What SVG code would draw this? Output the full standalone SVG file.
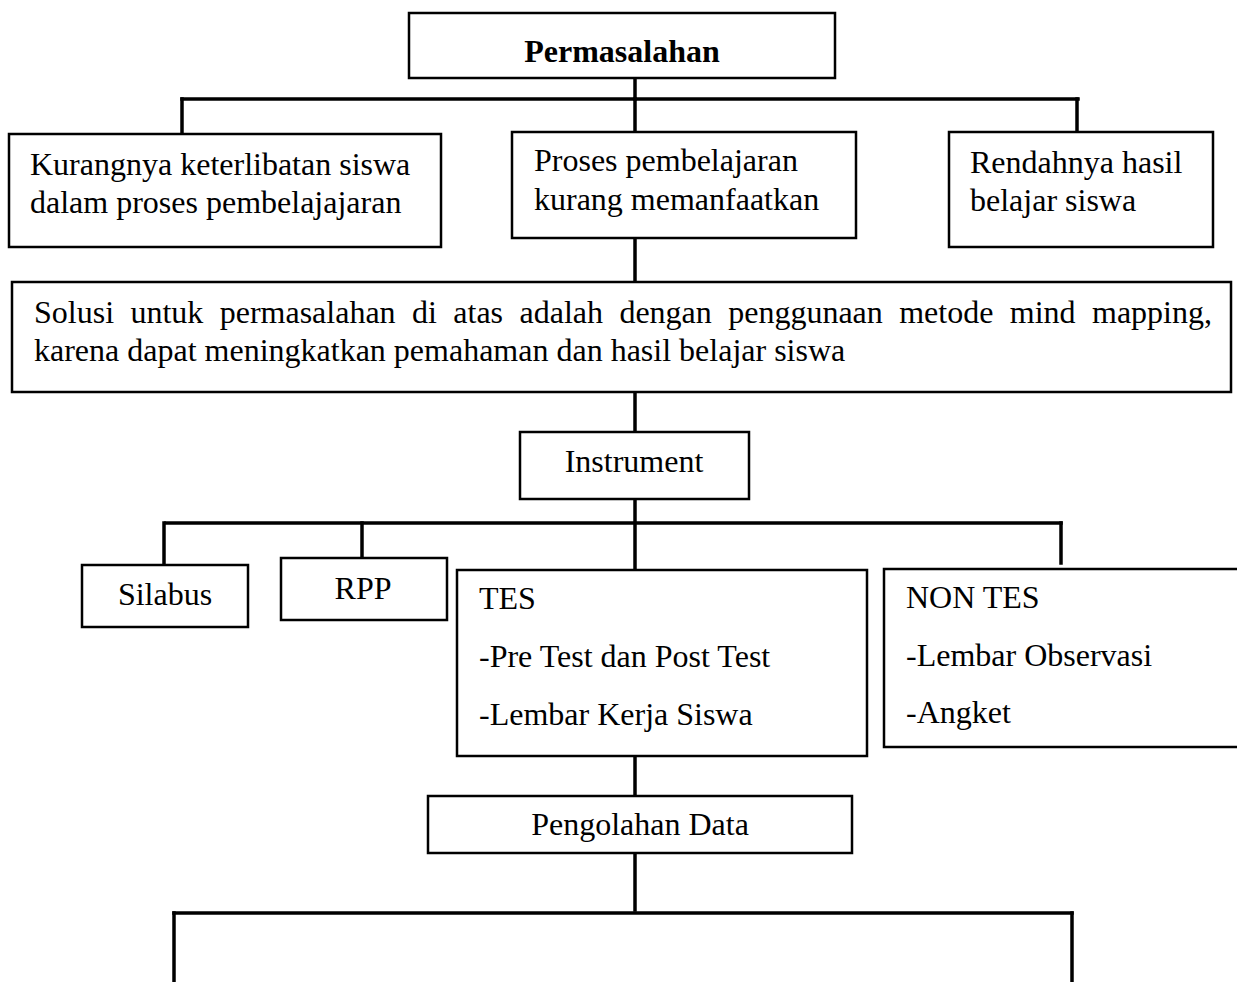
<svg xmlns="http://www.w3.org/2000/svg" width="1237" height="982" viewBox="0 0 1237 982">
<style>
  .box { fill: #ffffff; stroke: #000000; stroke-width: 2.5; }
  .conn { stroke: #000000; stroke-width: 3.5; fill: none; stroke-linecap: square; }
  text { font-family: "Liberation Serif", "Times New Roman", serif; font-size: 32px; fill: #000000; }
  .bold { font-weight: bold; }
  .mid { text-anchor: middle; }
</style>
<rect width="1237" height="982" fill="#ffffff"/>
<g id="connectors">
  <line class="conn" x1="635" y1="78" x2="635" y2="99"/>
  <line class="conn" x1="182" y1="99" x2="1078" y2="99"/>
  <line class="conn" x1="182" y1="99" x2="182" y2="133"/>
  <line class="conn" x1="635" y1="99" x2="635" y2="131"/>
  <line class="conn" x1="1077" y1="99" x2="1077" y2="131"/>
  <line class="conn" x1="635" y1="238" x2="635" y2="282"/>
  <line class="conn" x1="635" y1="392" x2="635" y2="432"/>
  <line class="conn" x1="635" y1="499" x2="635" y2="569"/>
  <line class="conn" x1="166" y1="523" x2="1061" y2="523"/>
  <line class="conn" x1="164" y1="523" x2="164" y2="565"/>
  <line class="conn" x1="362" y1="523" x2="362" y2="558"/>
  <line class="conn" x1="1061" y1="523" x2="1061" y2="563"/>
  <line class="conn" x1="635" y1="756" x2="635" y2="796"/>
  <line class="conn" x1="635" y1="853" x2="635" y2="910"/>
  <line class="conn" x1="174" y1="913" x2="1072" y2="913"/>
  <line class="conn" x1="174" y1="913" x2="174" y2="990"/>
  <line class="conn" x1="1072" y1="913" x2="1072" y2="990"/>
</g>
<g id="permasalahan">
  <rect class="box" x="409" y="13" width="426" height="65"/>
  <text class="bold mid" x="622" y="62">Permasalahan</text>
</g>
<g id="kurangnya">
  <rect class="box" x="9" y="134" width="432" height="113"/>
  <text x="30" y="175">Kurangnya keterlibatan siswa</text>
  <text x="30" y="213">dalam proses pembelajajaran</text>
</g>
<g id="proses">
  <rect class="box" x="512" y="132" width="344" height="106"/>
  <text x="534" y="171">Proses pembelajaran</text>
  <text x="534" y="210">kurang memanfaatkan</text>
</g>
<g id="rendahnya">
  <rect class="box" x="949" y="132" width="264" height="115"/>
  <text x="970" y="173">Rendahnya hasil</text>
  <text x="970" y="211">belajar siswa</text>
</g>
<g id="solusi">
  <rect class="box" x="12" y="282" width="1219" height="110"/>
  <text y="323"><tspan x="34">Solusi</tspan><tspan x="130.4">untuk</tspan><tspan x="219.7">permasalahan</tspan><tspan x="412">di</tspan><tspan x="453.3">atas</tspan><tspan x="519.5">adalah</tspan><tspan x="619.4">dengan</tspan><tspan x="728.2">penggunaan</tspan><tspan x="899.2">metode</tspan><tspan x="1009.8">mind</tspan><tspan x="1092">mapping,</tspan></text>
  <text x="34" y="361">karena dapat meningkatkan pemahaman dan hasil belajar siswa</text>
</g>
<g id="instrument">
  <rect class="box" x="520" y="432" width="229" height="67"/>
  <text class="mid" x="634" y="472">Instrument</text>
</g>
<g id="silabus">
  <rect class="box" x="82" y="565" width="166" height="62"/>
  <text class="mid" x="165" y="605">Silabus</text>
</g>
<g id="rpp">
  <rect class="box" x="281" y="558" width="166" height="62"/>
  <text class="mid" x="363" y="599">RPP</text>
</g>
<g id="tes">
  <rect class="box" x="457" y="570" width="410" height="186"/>
  <text x="479" y="609">TES</text>
  <text x="479" y="667">-Pre Test dan Post Test</text>
  <text x="479" y="725">-Lembar Kerja Siswa</text>
</g>
<g id="nontes">
  <rect class="box" x="884" y="569" width="360" height="178"/>
  <text x="906" y="608">NON TES</text>
  <text x="906" y="666">-Lembar Observasi</text>
  <text x="906" y="723">-Angket</text>
</g>
<g id="pengolahan">
  <rect class="box" x="428" y="796" width="424" height="57"/>
  <text class="mid" x="640" y="835">Pengolahan Data</text>
</g>
</svg>
